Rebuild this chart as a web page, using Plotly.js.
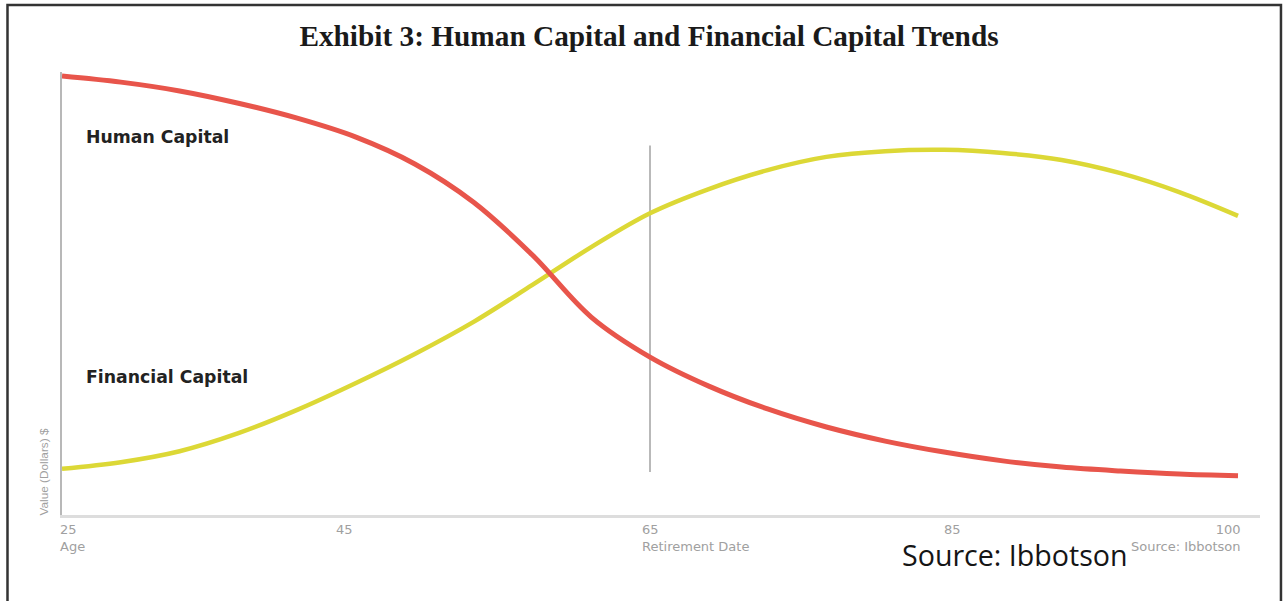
<!DOCTYPE html>
<html>
<head>
<meta charset="utf-8">
<script src="https://cdn.plot.ly/plotly-3.0.1.min.js"></script>
<style>
  html, body { margin: 0; padding: 0; background: #ffffff; }
  #chart { width: 1283px; height: 601px; }
</style>
</head>
<body>
<div id="chart"></div>
<script>
// ---- Data ----
// Horizontal position along the life timeline (0 = age 25, 100 = age 100), read every 5 units
const timeline = [0, 5, 10, 15, 20, 25, 30, 35, 40, 45, 50, 55, 60, 65, 70, 75, 80, 85, 90, 95, 100];
// Human capital value (relative units)
const humanCapital = [99.8, 98.4, 96.4, 93.6, 90.2, 85.9, 79.8, 71.1, 59.1, 45.0, 35.9, 29.3, 24.1, 20.0, 16.8, 14.3, 12.3, 10.9, 10.0, 9.3, 8.9];
// Financial capital value (relative units)
const financialCapital = [10.5, 12.0, 14.5, 18.6, 23.9, 30.0, 36.6, 43.9, 52.3, 60.9, 68.6, 74.1, 78.4, 81.4, 82.7, 83.0, 82.3, 80.7, 77.7, 73.4, 68.0];

// Age tick labels and where they sit on the timeline
const ageLabels = ['25', '45', '65', '85', '100'];
const ageSubLabels = ['Age', '', 'Retirement Date', '', 'Source: Ibbotson'];
const ageTimeline = [0, 24.0, 50.0, 75.7, 100];

// Retirement marker line (at age 65)
const retirementX = [50.0, 50.0];
const retirementY = [84.0, 9.8];

// Series labels
const seriesNames = ['Human Capital', 'Financial Capital'];
const seriesLabelX = [1.9, 1.9];
const seriesLabelY = [85.9, 31.4];

const titleText = 'Exhibit 3: Human Capital and Financial Capital Trends';
const yTitle = 'Value (Dollars) $';
const sourceText = 'Source: Ibbotson';

// ---- Traces ----
const traces = [
  {
    x: retirementX, y: retirementY, mode: 'lines', type: 'scatter',
    line: {color: '#b9b9b9', width: 2}, hoverinfo: 'skip', showlegend: false
  },
  {
    x: timeline, y: financialCapital, mode: 'lines', type: 'scatter',
    name: seriesNames[1],
    line: {color: '#dcd836', width: 4.5, shape: 'spline', smoothing: 1}, showlegend: false
  },
  {
    x: timeline, y: humanCapital, mode: 'lines', type: 'scatter',
    name: seriesNames[0],
    line: {color: '#e8554b', width: 5, shape: 'spline', smoothing: 1}, showlegend: false
  }
];

// ---- Annotations ----
const annotations = [];
seriesNames.forEach((n, i) => {
  annotations.push({
    x: seriesLabelX[i], y: seriesLabelY[i], xref: 'x', yref: 'y',
    text: n, showarrow: false, xanchor: 'left', yanchor: 'middle',
    font: {family: 'DejaVu Sans', size: 17.3, color: '#222222', weight: 'bold'}
  });
});
ageLabels.forEach((lab, i) => {
  const sub = ageSubLabels[i];
  const last = i === ageLabels.length - 1;
  let anchor = 'center', shift = 0, align = 'center';
  if (sub && !last) { anchor = 'left'; align = 'left'; shift = (i === 0 ? -3 : -9); }
  if (last) { anchor = 'right'; align = 'right'; shift = 4; }
  annotations.push({
    x: ageTimeline[i], y: 0, xref: 'x', yref: 'paper',
    text: sub ? lab + '<br>' + sub : lab,
    showarrow: false, xanchor: anchor, yanchor: 'top', align: align,
    xshift: shift, yshift: -6, borderpad: 0,
    font: {family: 'DejaVu Sans', size: 13, color: '#a0a0a0'}
  });
});
annotations.push({
  x: -0.0152, y: -0.005, xref: 'paper', yref: 'paper',
  text: yTitle, showarrow: false, textangle: -90,
  xanchor: 'center', yanchor: 'bottom',
  font: {family: 'Liberation Sans Narrow, Liberation Sans', size: 11.8, color: '#a0a0a0'}
});
annotations.push({
  x: 0.7005, y: -0.089, xref: 'paper', yref: 'paper',
  text: sourceText, showarrow: false, xanchor: 'left', yanchor: 'middle', borderpad: 0,
  font: {family: 'Open Sans', size: 28.6, color: '#151515'}
});

const layout = {
  width: 1283, height: 601,
  margin: {l: 62, r: 23, t: 72, b: 86},
  paper_bgcolor: '#ffffff', plot_bgcolor: '#ffffff',
  title: {
    text: '<b>' + titleText + '</b>',
    x: 0.49, xanchor: 'center', xref: 'paper',
    y: 0.940, yanchor: 'middle', yref: 'container',
    font: {family: 'Liberation Serif', size: 29.3, color: '#1a1a1a'}
  },
  xaxis: {
    range: [0, 101.87], showgrid: false, zeroline: false, showticklabels: false,
    ticks: '', showline: true, linecolor: '#dddddd', linewidth: 3, fixedrange: true
  },
  yaxis: {
    range: [0, 100.7], showgrid: false, zeroline: false, showticklabels: false,
    ticks: '', showline: true, linecolor: '#b8b8b8', linewidth: 1.6, fixedrange: true
  },
  showlegend: false,
  annotations: annotations,
  shapes: [{
    type: 'rect', xref: 'paper', yref: 'paper',
    x0: -0.0455, x1: 1.0175, y0: -0.22, y1: 1.1515,
    line: {color: '#333333', width: 2.5}, fillcolor: 'rgba(0,0,0,0)', layer: 'above'
  }]
};

Plotly.newPlot('chart', traces, layout, {displayModeBar: false, staticPlot: true});
</script>
</body>
</html>
